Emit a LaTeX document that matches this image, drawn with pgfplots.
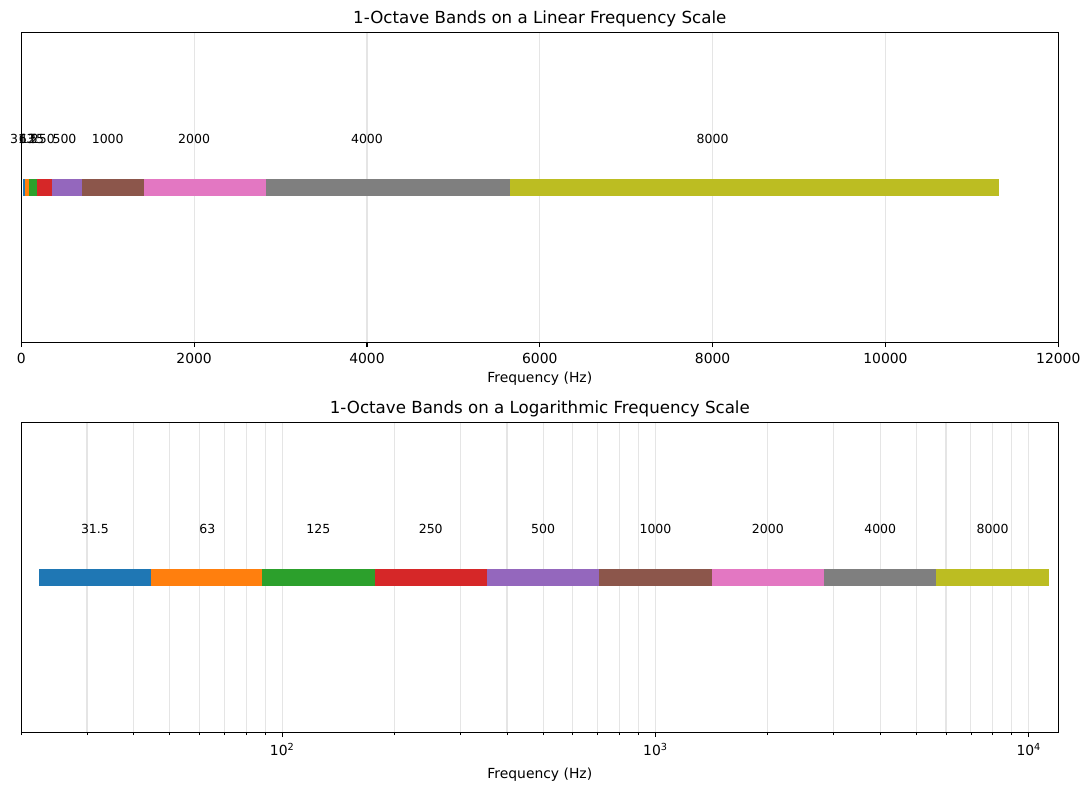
\documentclass[border=0pt]{standalone}
\usepackage{pgfplots}
\pgfplotsset{compat=1.18}
\usepackage{fontspec}
\setmainfont{DejaVu Sans}

% matplotlib tab10
\definecolor{c0}{HTML}{1F77B4}
\definecolor{c1}{HTML}{FF7F0E}
\definecolor{c2}{HTML}{2CA02C}
\definecolor{c3}{HTML}{D62728}
\definecolor{c4}{HTML}{9467BD}
\definecolor{c5}{HTML}{8C564B}
\definecolor{c6}{HTML}{E377C2}
\definecolor{c7}{HTML}{7F7F7F}
\definecolor{c8}{HTML}{BCBD22}
\definecolor{gridgray}{RGB}{229,229,229}

\pgfplotsset{
  bandaxis/.style={
    width=746.64pt, height=223.2pt, scale only axis,
    ymin=-1, ymax=1, ytick=\empty,
    clip=false,
    axis line style={line width=0.8pt},
    tick align=outside, tick pos=bottom,
    major tick length=3.5pt, minor tick length=2pt,
    major tick style={line width=0.8pt, black},
    minor tick style={line width=0.6pt, black},
    grid style={color=gridgray, line width=0.8pt},
    tick label style={font=\fontsize{10}{12}\selectfont},
    xticklabel style={anchor=north, inner sep=0pt, yshift=-4.5pt},
    title style={font=\fontsize{12}{14}\selectfont, at={(0.5,1)}, anchor=base},
    label style={font=\fontsize{10}{12}\selectfont},
    /pgf/number format/assume math mode=true,
    /pgf/number format/1000 sep={},
    scaled x ticks=false,
  },
  band/.style={fill=#1, draw=none},
}

% octave bands: fc/sqrt(2) .. fc*sqrt(2)
\newcommand{\drawbands}{%
  \addplot[band=c0] coordinates {(22.27,-0.053) (44.55,-0.053) (44.55,0.053) (22.27,0.053)} --cycle;
  \addplot[band=c1] coordinates {(44.55,-0.053) (89.10,-0.053) (89.10,0.053) (44.55,0.053)} --cycle;
  \addplot[band=c2] coordinates {(88.39,-0.053) (176.78,-0.053) (176.78,0.053) (88.39,0.053)} --cycle;
  \addplot[band=c3] coordinates {(176.78,-0.053) (353.55,-0.053) (353.55,0.053) (176.78,0.053)} --cycle;
  \addplot[band=c4] coordinates {(353.55,-0.053) (707.11,-0.053) (707.11,0.053) (353.55,0.053)} --cycle;
  \addplot[band=c5] coordinates {(707.11,-0.053) (1414.21,-0.053) (1414.21,0.053) (707.11,0.053)} --cycle;
  \addplot[band=c6] coordinates {(1414.21,-0.053) (2828.43,-0.053) (2828.43,0.053) (1414.21,0.053)} --cycle;
  \addplot[band=c7] coordinates {(2828.43,-0.053) (5656.85,-0.053) (5656.85,0.053) (2828.43,0.053)} --cycle;
  \addplot[band=c8] coordinates {(5656.85,-0.053) (11313.71,-0.053) (11313.71,0.053) (5656.85,0.053)} --cycle;
  \pgfplotsinvokeforeach{31.5,63,125,250,500,1000,2000,4000,8000}{
    \node[font=\fontsize{9}{11}\selectfont, inner sep=0pt] at (axis cs:##1,0.313) {##1};
  }%
}

\begin{document}
\begin{tikzpicture}
\useasboundingbox (-15.34pt,-322.34pt) rectangle (768.74pt,246.46pt);

\begin{axis}[bandaxis,
  at={(0,0)}, anchor=south west,
  title={1-Octave Bands on a Linear Frequency Scale},
  xlabel={Frequency (Hz)},
  xlabel style={at={(0.5,0)}, anchor=base, yshift=-28.6pt},
  xmin=0, xmax=12000,
  xtick={0,2000,4000,6000,8000,10000,12000},
  xmajorgrids,
]
\drawbands
\end{axis}

\begin{axis}[bandaxis,
  at={(0,-280.8pt)}, anchor=south west,
  title={1-Octave Bands on a Logarithmic Frequency Scale},
  xlabel={Frequency (Hz)},
  xlabel style={at={(0.5,0)}, anchor=base, yshift=-32.9pt},
  xmode=log, xmin=20, xmax=12000,
  xtick={100,1000,10000},
  xticklabels={10\textsuperscript{2},10\textsuperscript{3},10\textsuperscript{4}},
  minor xtick={20,30,40,50,60,70,80,90,200,300,400,500,600,700,800,900,2000,3000,4000,5000,6000,7000,8000,9000},
  xmajorgrids, xminorgrids,
]
\drawbands
\end{axis}
\end{tikzpicture}
\end{document}
